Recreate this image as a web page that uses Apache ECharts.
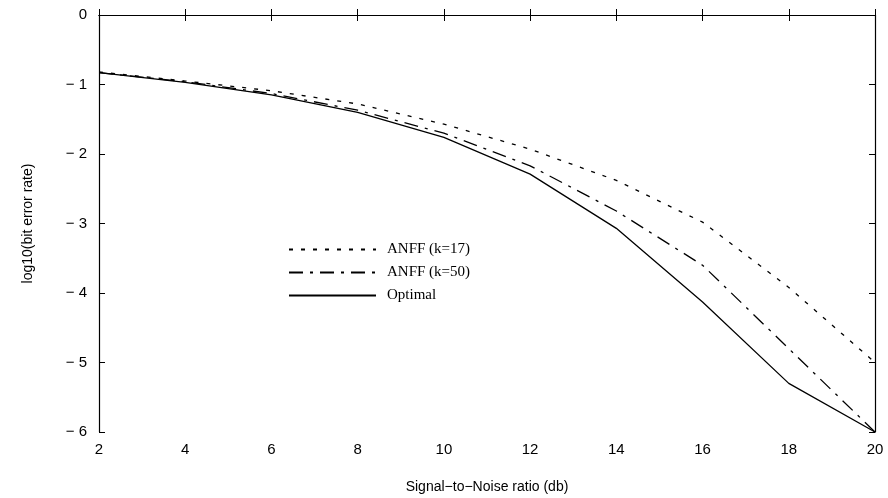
<!DOCTYPE html>
<html><head><meta charset="utf-8">
<script src="https://cdn.jsdelivr.net/npm/echarts@6/dist/echarts.min.js"></script>
<style>html,body{margin:0;padding:0;background:#fff}#c{width:888px;height:498px}</style>
</head><body><div id="c"></div>
<script>
var snr = [2, 4, 6, 8, 10, 12, 14, 16, 18, 20];
var anff17 = [-0.82, -0.95, -1.09, -1.28, -1.57, -1.93, -2.38, -2.98, -3.92, -5.0];
var anff50 = [-0.83, -0.96, -1.13, -1.37, -1.70, -2.17, -2.82, -3.6, -4.8, -6.0];
var optimal = [-0.83, -0.97, -1.15, -1.40, -1.76, -2.29, -3.07, -4.13, -5.3, -6.0];
var xTicks = [2, 4, 6, 8, 10, 12, 14, 16, 18, 20];
var yTicks = [0, -1, -2, -3, -4, -5, -6];
var names = ['ANFF (k=17)', 'ANFF (k=50)', 'Optimal'];

function pairs(ys){ return snr.map(function(x,i){ return [x, ys[i]]; }); }
var sans = 'Liberation Sans';
var serif = 'Liberation Serif';
var axisBase = {
  axisLine: {show: true, lineStyle: {color: '#000', width: 1.2}},
  axisTick: {show: true, inside: true, length: 6, lineStyle: {color: '#000'}},
  splitLine: {show: false}
};
var chart = echarts.init(document.getElementById('c'), null, {renderer: 'canvas'});
chart.setOption({
  animation: false,
  backgroundColor: '#fff',
  grid: {left: 99, right: 13, top: 15, bottom: 66, containLabel: false, outerBoundsMode: 'none'},
  legend: {
    show: true, orient: 'vertical', left: 283, top: 237, itemGap: 8,
    itemWidth: 87, itemHeight: 10,
    itemStyle: {opacity: 0},
    textStyle: {fontFamily: serif, fontSize: 15, color: '#000', padding: [0,0,0,6]},
    data: names
  },
  xAxis: [
    Object.assign({type: 'value', min: 2, max: 20, interval: 2, position: 'bottom',
      name: 'Signal\u2212to\u2212Noise ratio (db)', nameLocation: 'middle', nameGap: 48,
      nameTextStyle: {fontFamily: sans, fontSize: 14, color: '#000'},
      axisLabel: {fontFamily: sans, fontSize: 15, color: '#000', margin: 10}}, axisBase),
    Object.assign({type: 'value', min: 2, max: 20, interval: 2, position: 'top',
      axisLabel: {show: false}}, axisBase)
  ],
  yAxis: [
    Object.assign({type: 'value', min: -6, max: 0, interval: 1, position: 'left',
      name: 'log10(bit error rate)', nameLocation: 'middle', nameGap: 64,
      nameTextStyle: {fontFamily: sans, fontSize: 14, color: '#000'},
      axisLabel: {fontFamily: sans, fontSize: 15, color: '#000', margin: 12,
        formatter: function(v){ return v < 0 ? '\u2212 ' + Math.abs(v) : String(v); }}}, axisBase),
    Object.assign({type: 'value', min: -6, max: 0, interval: 1, position: 'right',
      axisLabel: {show: false}}, axisBase)
  ],
  series: [
    {name: names[0], type: 'line', data: pairs(anff17), showSymbol: false, symbol: 'none',
      lineStyle: {color: '#000', width: 1.3, type: [4, 8]}, itemStyle: {color: '#000'}},
    {name: names[1], type: 'line', data: pairs(anff50), showSymbol: false, symbol: 'none',
      lineStyle: {color: '#000', width: 1.3, type: [14, 7, 3, 7]}, itemStyle: {color: '#000'}},
    {name: names[2], type: 'line', data: pairs(optimal), showSymbol: false, symbol: 'none',
      lineStyle: {color: '#000', width: 1.3, type: 'solid'}, itemStyle: {color: '#000'}}
  ]
});
</script></body></html>
